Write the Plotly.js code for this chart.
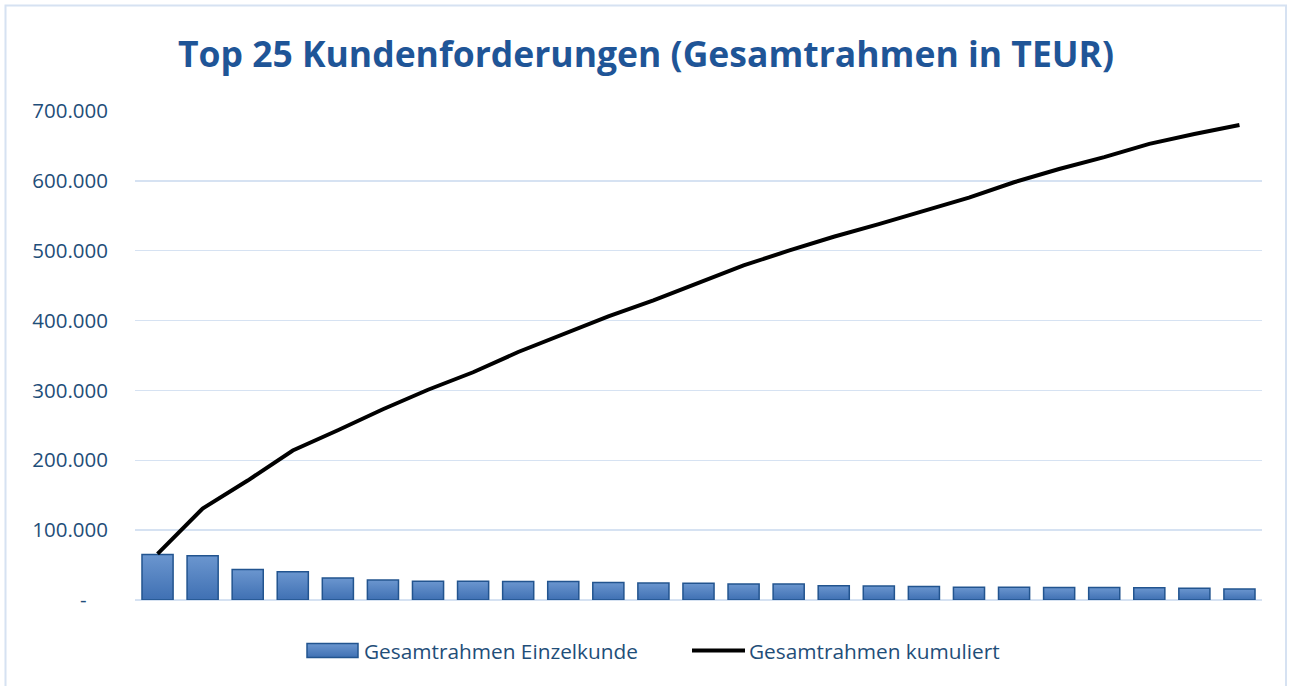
<!DOCTYPE html>
<html>
<head>
<meta charset="utf-8">
<script src="https://cdn.plot.ly/plotly-3.0.1.min.js"></script>
<style>
  html, body { margin: 0; padding: 0; background: #ffffff; }
  #chart { width: 1292px; height: 686px; }
</style>
</head>
<body>
<div id="chart"></div>
<script>
// Categories: the 25 largest customers (no labels shown on the x axis)
const customers = ["K1","K2","K3","K4","K5","K6","K7","K8","K9","K10","K11","K12","K13",
                   "K14","K15","K16","K17","K18","K19","K20","K21","K22","K23","K24","K25"];

// Gesamtrahmen Einzelkunde (TEUR)
const einzelkunde = [65000, 63500, 43500, 40500, 31500, 28500, 27000, 26700, 26600, 26600,
                     25200, 24200, 23800, 22900, 22800, 20500, 20000, 19500, 18200, 18100,
                     18000, 17800, 17600, 16700, 15800];

// Gesamtrahmen kumuliert (TEUR)
const kumuliert = [66000, 131000, 171000, 214000, 243000, 273000, 301000, 326000, 355000, 381000,
                   406000, 429000, 454000, 479000, 500000, 520000, 538000, 557000, 576000, 598000,
                   617000, 634000, 653000, 667000, 680000];

// Y axis tick labels
const yTickVals = [0, 100000, 200000, 300000, 400000, 500000, 600000, 700000];
const yTickText = ["-\u00a0\u00a0\u00a0\u00a0", "100.000", "200.000", "300.000", "400.000", "500.000", "600.000", "700.000"];

const textBlue = "#1F4E79";
const titleBlue = "#1F5597";

const traces = [
  {
    type: "bar",
    name: "Gesamtrahmen Einzelkunde",
    x: customers,
    y: einzelkunde,
    marker: { color: "#4F7FC0", line: { color: "#22548F", width: 1.5 } },
    hoverinfo: "y"
  },
  {
    type: "scatter",
    mode: "lines",
    name: "Gesamtrahmen kumuliert",
    x: customers,
    y: kumuliert,
    line: { color: "#000000", width: 4 },
    hoverinfo: "y"
  }
];

const layout = {
  width: 1292,
  height: 686,
  margin: { l: 135, r: 30, t: 111, b: 86 },
  paper_bgcolor: "#ffffff",
  plot_bgcolor: "#ffffff",
  font: { family: "Open Sans, sans-serif", color: textBlue },
  title: {
    text: "<b>Top 25 Kundenforderungen (Gesamtrahmen in TEUR)</b>",
    font: { family: "Open Sans, sans-serif", size: 35.5, color: titleBlue },
    x: 0.5, xanchor: "center",
    y: 0.92, yanchor: "middle"
  },
  bargap: 0.31,
  showlegend: true,
  legend: {
    orientation: "h",
    x: (302 - 135) / 1127, xanchor: "left",
    y: (600 - 651) / 489, yanchor: "middle",
    font: { size: 20.8, color: textBlue },
    itemwidth: 52,
    entrywidth: 318,
    entrywidthmode: "pixels",
    traceorder: "normal"
  },
  xaxis: {
    showticklabels: false,
    showgrid: false,
    zeroline: false,
    showline: false,
    ticks: ""
  },
  yaxis: {
    range: [0, 700000],
    tickvals: yTickVals,
    ticktext: yTickText,
    tickfont: { size: 20.5, color: textBlue },
    showgrid: true,
    gridcolor: "#D6E2F2",
    gridwidth: 1.5,
    zeroline: true,
    zerolinecolor: "#D6E2F2",
    zerolinewidth: 1.5,
    showline: false,
    ticks: "",
    ticklabelstandoff: 26
  },
  shapes: [
    {
      type: "rect", xref: "paper", yref: "paper",
      x0: (5.5 - 135) / 1127, x1: (1286 - 135) / 1127,
      y0: (600 - 695) / 489, y1: (600 - 5.5) / 489,
      line: { color: "#D6E2F2", width: 2 },
      fillcolor: "rgba(0,0,0,0)",
      layer: "below"
    }
  ]
};

function decorate(gd) {
  const svg = gd.querySelector("svg.main-svg");
  const NS = "http://www.w3.org/2000/svg";
  if (!svg.querySelector("#barGrad")) {
    let defs = svg.querySelector("defs");
    if (!defs) { defs = document.createElementNS(NS, "defs"); svg.insertBefore(defs, svg.firstChild); }
    const grad = document.createElementNS(NS, "linearGradient");
    grad.setAttribute("id", "barGrad");
    grad.setAttribute("x1", "0"); grad.setAttribute("y1", "0");
    grad.setAttribute("x2", "0"); grad.setAttribute("y2", "1");
    [["0", "#6B96CF"], ["1", "#3F70B3"]].forEach(function (s) {
      const st = document.createElementNS(NS, "stop");
      st.setAttribute("offset", s[0]); st.setAttribute("stop-color", s[1]);
      grad.appendChild(st);
    });
    defs.appendChild(grad);
  }
  gd.querySelectorAll(".barlayer .point path").forEach(function (p) {
    p.style.fill = "url(#barGrad)";
  });
  // Wider legend symbols like the original
  const items = gd.querySelectorAll(".legend .traces");
  items.forEach(function (item) {
    const text = item.querySelector("text.legendtext");
    const textLeft = text ? text.getBoundingClientRect().left : null;
    item.querySelectorAll(".legendpoints path").forEach(function (p) {
      if (p.getAttribute("data-wide") === "1") return;
      const r = p.getBoundingClientRect();
      if (r.width === 0 || textLeft === null) return;
      const cx = (r.left + r.right) / 2;
      const x0 = (textLeft - 57) - cx;
      const x1 = (textLeft - 6) - cx;
      p.setAttribute("d", "M" + x0 + ",7H" + x1 + "V-7H" + x0 + "Z");
      p.setAttribute("data-wide", "1");
      p.style.fill = "url(#barGrad)";
      p.style.stroke = "#22548F";
      p.style.strokeWidth = "1.5px";
    });
    const ll = item.querySelector("path.js-line");
    if (ll) ll.setAttribute("d", "M5,0h53");
  });
}

Plotly.newPlot("chart", traces, layout, { displayModeBar: false, staticPlot: true }).then(function (gd) {
  decorate(gd);
  setTimeout(function () { decorate(gd); }, 50);
});
</script>
</body>
</html>
